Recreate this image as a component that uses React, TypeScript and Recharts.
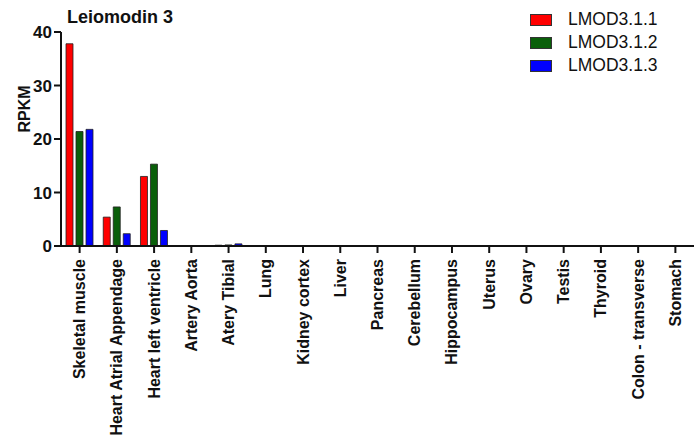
import { BarChart, Bar, XAxis, YAxis } from "recharts";

const tissues = [
  "Skeletal muscle",
  "Heart Atrial Appendage",
  "Heart left ventricle",
  "Artery Aorta",
  "Atery Tibial",
  "Lung",
  "Kidney cortex",
  "Liver",
  "Pancreas",
  "Cerebellum",
  "Hippocampus",
  "Uterus",
  "Ovary",
  "Testis",
  "Thyroid",
  "Colon - transverse",
  "Stomach",
];

const lmod311 = [37.8, 5.4, 13.0, 0.05, 0.15, 0.05, 0, 0, 0, 0, 0, 0, 0, 0, 0, 0, 0.05];
const lmod312 = [21.4, 7.3, 15.3, 0.05, 0.2, 0.05, 0, 0, 0, 0, 0, 0, 0, 0, 0, 0, 0.05];
const lmod313 = [21.8, 2.3, 2.9, 0.05, 0.4, 0.05, 0, 0, 0, 0, 0, 0, 0, 0, 0, 0, 0.05];

const yTicks = [0, 10, 20, 30, 40];

const series = [
  { key: "LMOD3.1.1", color: "#FF0000" },
  { key: "LMOD3.1.2", color: "#0A5F0A" },
  { key: "LMOD3.1.3", color: "#0000FF" },
];

const data = tissues.map((t, i) => ({
  tissue: t,
  "LMOD3.1.1": lmod311[i],
  "LMOD3.1.2": lmod312[i],
  "LMOD3.1.3": lmod313[i],
}));

const FONT = "'Liberation Sans', Arial, sans-serif";

function TissueTick({ x, y, payload }: any) {
  const ty = y + 4;
  return (
    <text
      x={x}
      y={ty}
      transform={`rotate(-90, ${x}, ${ty})`}
      textAnchor="end"
      dominantBaseline="central"
      fontFamily={FONT}
      fontWeight="bold"
      fontSize={16}
      fill="#111"
    >
      {payload.value}
    </text>
  );
}

function RpkmLabel() {
  return (
    <text
      x={24}
      y={109}
      transform="rotate(-90, 24, 109)"
      textAnchor="middle"
      dominantBaseline="central"
      fontFamily={FONT}
      fontWeight="bold"
      fontSize={16}
      fill="#111"
    >
      RPKM
    </text>
  );
}

export default function App() {
  return (
    <div style={{ position: "absolute", left: 0, top: 0, width: 699, height: 447, background: "#fff" }}>
      <div
        style={{
          position: "absolute",
          left: 67,
          top: 7,
          fontFamily: FONT,
          fontWeight: "bold",
          fontSize: 18,
          color: "#111",
        }}
      >
        Leiomodin 3
      </div>
      <div style={{ position: "absolute", left: 530, top: 8, fontFamily: FONT, zIndex: 2 }}>
        {series.map((s) => (
          <div key={s.key} style={{ display: "flex", alignItems: "center", height: 23 }}>
            <span
              style={{
                display: "inline-block",
                width: 20,
                height: 10,
                background: s.color,
                border: "1px solid #333",
                marginRight: 16,
              }}
            />
            <span style={{ fontSize: 17.5, color: "#111" }}>{s.key}</span>
          </div>
        ))}
      </div>
      <BarChart
        width={699}
        height={447}
        data={data}
        margin={{ top: 32, right: 5, bottom: 0, left: 0 }}
        barSize={7}
        barGap={3}
      >
        <XAxis
          dataKey="tissue"
          interval={0}
          height={201}
          tick={<TissueTick />}
          tickSize={7}
          axisLine={{ stroke: "#111", strokeWidth: 2 }}
          tickLine={{ stroke: "#111", strokeWidth: 2 }}
        />
        <YAxis
          width={61}
          domain={[0, 40]}
          ticks={yTicks}
          tickSize={7}
          tickMargin={2}
          axisLine={{ stroke: "#111", strokeWidth: 2 }}
          tickLine={{ stroke: "#111", strokeWidth: 2 }}
          tick={{ fontFamily: FONT, fontWeight: "bold", fontSize: 17, fill: "#111" }}
          label={<RpkmLabel />}
        />
        {series.map((s) => (
          <Bar
            key={s.key}
            dataKey={s.key}
            fill={s.color}
            stroke="#222"
            strokeWidth={0.8}
            isAnimationActive={false}
          />
        ))}
      </BarChart>
    </div>
  );
}
